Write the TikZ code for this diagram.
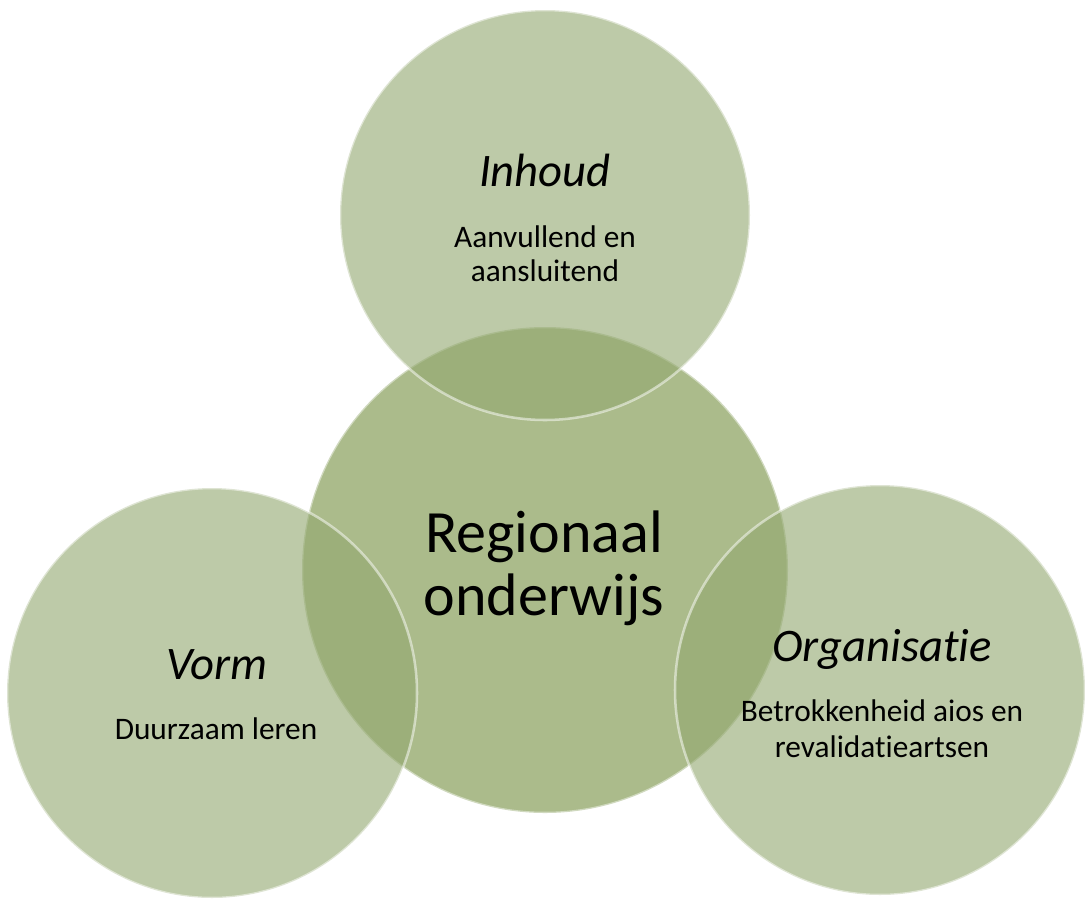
\documentclass[tikz,border=0pt]{standalone}
\usepackage{fontspec}
\setmainfont[Ligatures=NoCommon]{Carlito}
\usepackage{tikz}
\definecolor{sagefill}{HTML}{93A870}
\definecolor{sagecore}{HTML}{ABBB8B}
\tikzset{
	bubble/.style={circle, fill=sagefill, fill opacity=0.61, draw=white, draw opacity=0.5, line width=1.9pt, minimum size=307.5pt, inner sep=0pt},
	corebubble/.style={circle, fill=sagecore, draw=white, draw opacity=0.45, line width=1.9pt, minimum size=364.5pt, inner sep=0pt},
	headtext/.style={font=\fontsize{35}{40}\selectfont\itshape, anchor=base},
	desctext/.style={font=\fontsize{23.5}{25}\selectfont, anchor=base},
	maintext/.style={font=\fontsize{45}{47}\selectfont, anchor=base}
}

\begin{document}
\begin{tikzpicture}[x=0.75pt, y=-0.75pt]
	\useasboundingbox (0,0) rectangle (1085,904);
	% circles
	\node[corebubble] (centre) at (545,570) {};
	\node[bubble] (inhoud) at (545,215) {};
	\node[bubble] (vorm) at (212,693) {};
	\node[bubble] (organisatie) at (880,690) {};
	% texts
	\node[headtext] (inhoudhead) at (545,186) {Inhoud};
	\node[desctext] (inhouddesc1) at (545,247) {Aanvullend en};
	\node[desctext] (inhouddesc2) at (545,281) {aansluitend};
	\node[headtext] (vormhead) at (217,679) {Vorm};
	\node[desctext] (vormdesc) at (216,739) {Duurzaam leren};
	\node[headtext] (orghead) at (882,661) {Organisatie};
	\node[desctext] (orgdesc1) at (882,721) {Betrokkenheid aios en};
	\node[desctext] (orgdesc2) at (882,757) {revalidatieartsen};
	\node[maintext] (centre1) at (544,552) {Regionaal};
	\node[maintext] (centre2) at (544,615) {onderwijs};
\end{tikzpicture}
\end{document}
